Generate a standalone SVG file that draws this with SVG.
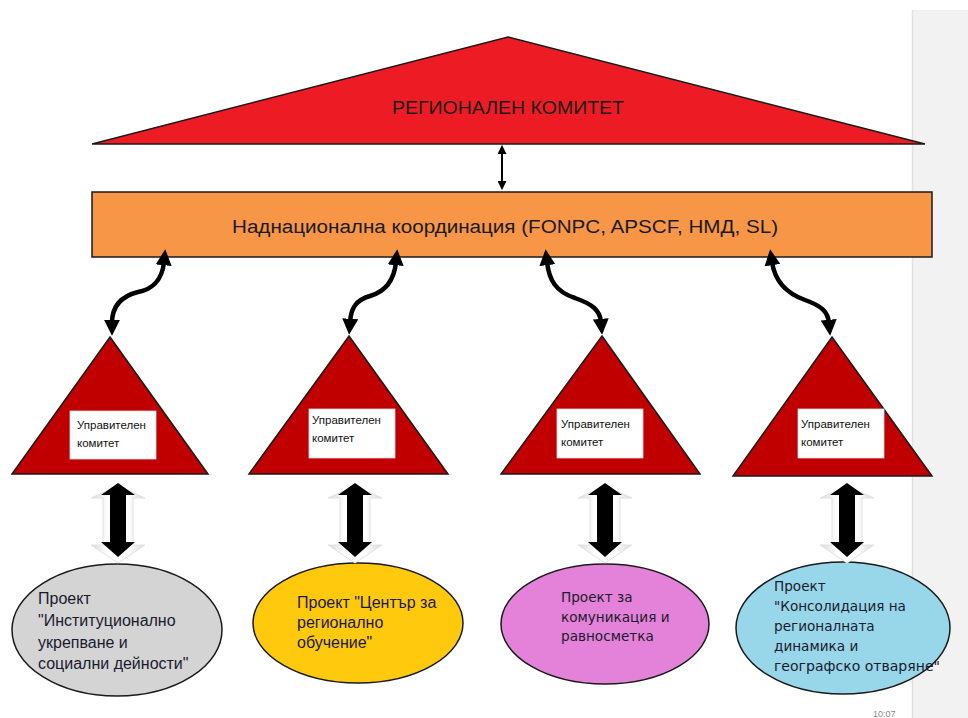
<svg xmlns="http://www.w3.org/2000/svg" width="968" height="718" viewBox="0 0 968 718">
<style>
.shape{stroke:#1a1a1a;stroke-width:1.5}
.box{fill:#ffffff;stroke:#dddddd;stroke-width:0.8}
.small{font-family:"Liberation Sans",Arial,sans-serif;font-size:11.5px;fill:#111}
.ell{font-family:"Liberation Sans",Arial,sans-serif;font-size:16px;fill:#1a1a2e}
.ell2{font-family:"DejaVu Sans","Liberation Sans",sans-serif;font-size:13.6px;fill:#1a1a2e}
.wave{fill:none;stroke:#000;stroke-width:4.5;marker-start:url(#head);marker-end:url(#head)}
</style>
<defs>
<marker id="head" viewBox="0 0 10 10" refX="2" refY="5" markerWidth="16" markerHeight="16" markerUnits="userSpaceOnUse" orient="auto-start-reverse">
<path d="M0,0 L10,5 L0,10 z" fill="#000"/>
</marker>
<marker id="thin" viewBox="0 0 10 10" refX="1" refY="5" markerWidth="9" markerHeight="9" markerUnits="userSpaceOnUse" orient="auto-start-reverse">
<path d="M0,0 L10,5 L0,10 z" fill="#000"/>
</marker>
<linearGradient id="sh" x1="0" y1="0" x2="1" y2="0">
<stop offset="0" stop-color="#d6d6d6"/>
<stop offset="0.3" stop-color="#ffffff"/>
<stop offset="0.7" stop-color="#ffffff"/>
<stop offset="1" stop-color="#d6d6d6"/>
</linearGradient>
<g id="blockarrow">
<polygon points="0,3 27,15 15,15 15,62 27,62 0,80 -27,62 -15,62 -15,15 -27,15" fill="url(#sh)" stroke="#e2e2e2" stroke-width="1"/>
<polygon points="0,0 17,12 8,12 8,59 17,59 0,74 -17,59 -8,59 -8,12 -17,12" fill="#000"/>
</g>
</defs>
<rect x="0" y="0" width="968" height="718" fill="#ffffff"/>
<rect x="912" y="10" width="56" height="708" fill="#f2f2f2"/>
<line x1="912.5" y1="10" x2="912.5" y2="718" stroke="#e2e2e2" stroke-width="1.5"/>
<text x="873" y="717" font-family="Liberation Sans,Arial,sans-serif" font-size="9" fill="#8a8a8a">10:07</text>

<g id="regional">
<polygon class="shape" points="508,37 925,144 92,144" fill="#ed1c24"/>
<text x="508" y="114" text-anchor="middle" font-family="Liberation Sans,Arial,sans-serif" font-size="18" textLength="232" lengthAdjust="spacingAndGlyphs" fill="#1a1a1a">РЕГИОНАЛЕН КОМИТЕТ</text>
</g>

<g id="coordination">
<rect class="shape" x="92" y="192" width="840" height="65" fill="#f79646"/>
<text x="505" y="233" text-anchor="middle" font-family="Liberation Sans,Arial,sans-serif" font-size="18" textLength="546" lengthAdjust="spacingAndGlyphs" fill="#1a1a1a">Наднационална координация (FONPC, APSCF, НМД, SL)</text>
</g>

<g id="sc1">
<polygon class="shape" points="110,337 208,474 12,474" fill="#c00000"/>
<rect class="box" x="70" y="411" width="86" height="48"/>
<text class="small" x="77" y="429">Управителен</text>
<text class="small" x="77" y="447">комитет</text>
</g>
<g id="sc2">
<polygon class="shape" points="349,336 448,474 249,474" fill="#c00000"/>
<rect class="box" x="309" y="409" width="86" height="49"/>
<text class="small" x="312" y="424">Управителен</text>
<text class="small" x="312" y="442">комитет</text>
</g>
<g id="sc3">
<polygon class="shape" points="602,336 700,474 501,474" fill="#c00000"/>
<rect class="box" x="557" y="409" width="86" height="49"/>
<text class="small" x="561" y="428">Управителен</text>
<text class="small" x="561" y="446">комитет</text>
</g>
<g id="sc4">
<polygon class="shape" points="832,337 932,476 733,476" fill="#c00000"/>
<rect class="box" x="798" y="409" width="86" height="49"/>
<text class="small" x="801" y="428">Управителен</text>
<text class="small" x="801" y="446">комитет</text>
</g>

<g id="p1">
<ellipse class="shape" cx="117" cy="630" rx="105" ry="66" fill="#d4d4d4"/>
<text class="ell" x="38" y="604">Проект</text>
<text class="ell" x="38" y="626">"Институционално</text>
<text class="ell" x="38" y="648">укрепване и</text>
<text class="ell" x="38" y="669">социални дейности"</text>
</g>
<g id="p2">
<ellipse class="shape" cx="358" cy="623" rx="105" ry="60" fill="#ffc90e"/>
<text class="ell" x="297" y="608" font-size="15">Проект "Център за</text>
<text class="ell" x="297" y="628" font-size="15">регионално</text>
<text class="ell" x="297" y="648" font-size="15">обучение"</text>
</g>
<g id="p3">
<ellipse class="shape" cx="605" cy="624" rx="104" ry="60" fill="#e382d8"/>
<text class="ell2" x="561" y="602">Проект за</text>
<text class="ell2" x="561" y="622">комуникация и</text>
<text class="ell2" x="561" y="641">равносметка</text>
</g>
<g id="p4">
<ellipse class="shape" cx="843" cy="628" rx="107" ry="66" fill="#98d6e9"/>
<text class="ell2" x="774" y="591">Проект</text>
<text class="ell2" x="774" y="611">"Консолидация на</text>
<text class="ell2" x="774" y="631">регионалната</text>
<text class="ell2" x="774" y="651">динамика и</text>
<text class="ell2" x="774" y="671" textLength="166" lengthAdjust="spacingAndGlyphs">географско отваряне"</text>
</g>

<g id="connectors">
<line x1="502" y1="153" x2="502" y2="182" stroke="#000" stroke-width="2" marker-start="url(#thin)" marker-end="url(#thin)"/>
<path class="wave" d="M164,262 C162,282 150,290 138,292 C122,296 112,305 112,323"/>
<path class="wave" d="M396,262 C394,282 384,292 370,296 C356,300 351,308 350,322"/>
<path class="wave" d="M547,262 C549,280 556,292 575,298 C592,304 600,310 601,322"/>
<path class="wave" d="M772,262 C775,282 788,294 805,300 C822,306 828,312 829,323"/>
<use href="#blockarrow" x="118" y="483"/>
<use href="#blockarrow" x="355" y="483"/>
<use href="#blockarrow" x="605" y="483"/>
<use href="#blockarrow" x="847" y="483"/>
</g>
</svg>
